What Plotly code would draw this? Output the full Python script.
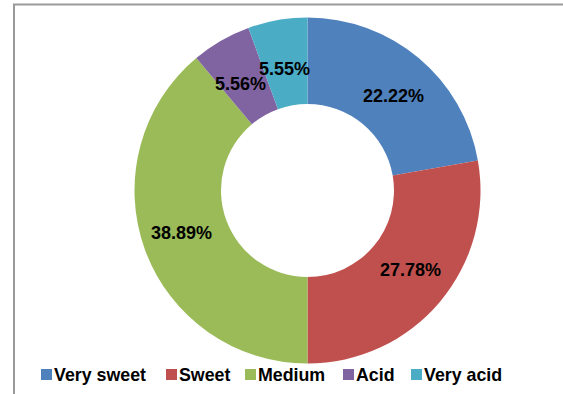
import math
import plotly.graph_objects as go

# Taste distribution
categories = ["Very sweet", "Sweet", "Medium", "Acid", "Very acid"]
shares = [22.22, 27.78, 38.89, 5.56, 5.55]
colors = ["#4F81BD", "#C0504D", "#9BBB59", "#8064A2", "#4BACC6"]

W, H = 563, 394
FONT = "Liberation Sans, Arial, sans-serif"

# donut geometry in pixels
cx, cy, r = 307.5, 190.5, 173
hole = 0.5

fig = go.Figure(
    go.Pie(
        labels=categories,
        values=shares,
        sort=False,
        direction="clockwise",
        rotation=0,
        hole=hole,
        marker=dict(colors=colors, line=dict(width=0)),
        textinfo="none",
        domain=dict(
            x=[(cx - r) / W, (cx + r) / W],
            y=[1 - (cy + r) / H, 1 - (cy - r) / H],
        ),
        showlegend=False,
        hoverinfo="label+percent",
    )
)

annotations = []

# value labels centred in the ring at each slice's mid-angle
total = sum(shares)
rx, ry = 134, 123
start = 0.0
for v in shares:
    mid = (start + v / 2) / total * 2 * math.pi
    start += v
    px = cx + rx * math.sin(mid)
    py = cy - ry * math.cos(mid)
    annotations.append(dict(text=f"{v:.2f}%", xref="paper", yref="paper",
                            x=px / W, y=1 - py / H, xanchor="center", yanchor="middle",
                            showarrow=False,
                            font=dict(family=FONT, size=18, color="black", weight="bold")))

shapes = [
    # chart area frame
    dict(type="rect", xref="paper", yref="paper",
         x0=14 / W, x1=1.2, y0=-0.2, y1=1 - 4.5 / H,
         line=dict(color="#9A9A9A", width=2), fillcolor="rgba(0,0,0,0)", layer="below"),
]

# legend row along the bottom
legend_x = [41, 166, 245, 343, 411]
sq, ly = 11, 374.5
for name, col, x in zip(categories, colors, legend_x):
    shapes.append(dict(type="rect", xref="paper", yref="paper",
                       x0=x / W, x1=(x + sq) / W,
                       y0=1 - (ly + sq / 2) / H, y1=1 - (ly - sq / 2) / H,
                       line=dict(width=0), fillcolor=col))
    annotations.append(dict(text=name, xref="paper", yref="paper",
                            x=(x + sq) / W, y=1 - ly / H,
                            xanchor="left", yanchor="middle", showarrow=False,
                            font=dict(family=FONT, size=17.8, color="black", weight="bold")))

fig.update_layout(
    width=W, height=H,
    margin=dict(l=0, r=0, t=0, b=0),
    paper_bgcolor="white",
    plot_bgcolor="white",
    shapes=shapes,
    annotations=annotations,
)

fig.write_html("out.html")
